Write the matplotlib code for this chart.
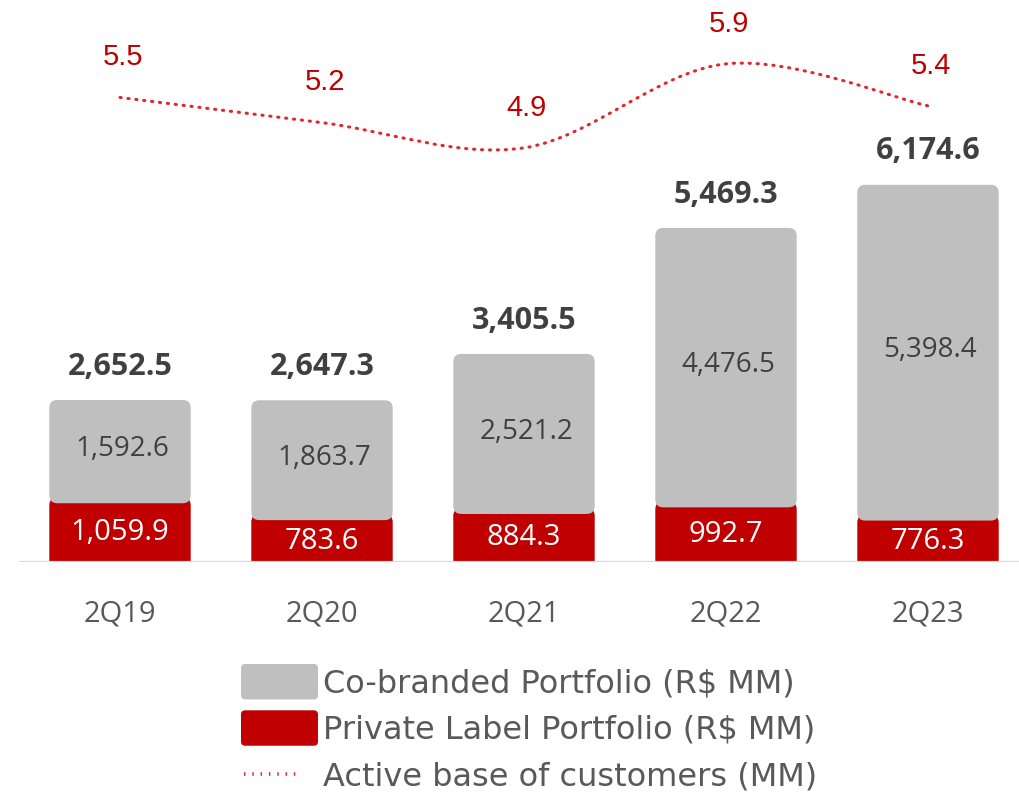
import numpy as np
import matplotlib
matplotlib.use("Agg")
import matplotlib.pyplot as plt
from matplotlib.patches import FancyBboxPatch, PathPatch
from matplotlib.path import Path
from matplotlib.legend_handler import HandlerPatch

# data
quarters = ['2Q19', '2Q20', '2Q21', '2Q22', '2Q23']
private_label = [1059.9, 783.6, 884.3, 992.7, 776.3]
co_branded = [1592.6, 1863.7, 2521.2, 4476.5, 5398.4]
totals = [2652.5, 2647.3, 3405.5, 5469.3, 6174.6]
customers = [5.5, 5.2, 4.9, 5.9, 5.4]

GRAY = '#bfbfbf'
RED = '#c00000'
LINE_RED = '#e3262b'
TXT = '#404040'
TXT2 = '#595959'

plt.rcParams['font.family'] = ['Open Sans', 'DejaVu Sans']

fig = plt.figure(figsize=(10.19, 7.92), dpi=100)
ax = fig.add_axes([19/1019, 230/792, 1010/1019, 562/792])
ax.set_xlim(-0.5, 4.5)
YMAX = 9200
ax.set_ylim(0, YMAX)

x = np.arange(len(quarters))
w = 0.70
px_x = 1010/5.0          # pixels per x unit
px_y = 562.0/YMAX        # pixels per y unit
r = 8/px_x
asp = (8/px_y)/r
overlap = 6/px_y         # gray bar sits a bit over the red one


def rbar(xc, bottom, top, color, z):
    p = FancyBboxPatch((xc - w/2, bottom), w, top - bottom,
                       boxstyle="round,pad=0,rounding_size=%f" % r,
                       mutation_aspect=asp, fc=color, ec='none', zorder=z)
    ax.add_patch(p)
    return p


for i in range(len(x)):
    # red bar starts below the baseline so its bottom looks square
    rbar(x[i], -200, private_label[i], RED, 2)
    rbar(x[i], private_label[i] - overlap, totals[i], GRAY, 3)
    ax.text(x[i], (private_label[i] - overlap)/2, f"{private_label[i]:,.1f}",
            ha='center', va='center', color='white', fontsize=21, zorder=5)
    ax.text(x[i] + 0.01, (private_label[i] - overlap + totals[i])/2 + 40,
            f"{co_branded[i]:,.1f}", ha='center', va='center', color=TXT,
            fontsize=20, zorder=5)
    ax.annotate(f"{totals[i]:,.1f}", (x[i], totals[i]), xytext=(0, 24),
                textcoords='offset points', ha='center', va='center',
                color=TXT, fontsize=22, fontweight='bold')

ax.axhline(0, color='#d9d9d9', lw=1.6, zorder=4)
for s in ax.spines.values():
    s.set_visible(False)
ax.set_yticks([])
ax.set_xticks(x)
ax.set_xticklabels(quarters, fontsize=21, color=TXT2)
ax.tick_params(axis='x', length=0, pad=27)

# secondary axis for the customer line
ax2 = ax.twinx()
ax2.set_ylim(-0.03, 6.66)
ax2.set_yticks([])
for s in ax2.spines.values():
    s.set_visible(False)

# smooth curve through the points (cubic bezier, catmull-rom tangents)
pts = np.column_stack([x, customers]).astype(float)
verts = [tuple(pts[0])]
codes = [Path.MOVETO]
n = len(pts)
for i in range(n - 1):
    p0 = pts[max(i - 1, 0)]
    p1 = pts[i]
    p2 = pts[i + 1]
    p3 = pts[min(i + 2, n - 1)]
    c1 = p1 + (p2 - p0)/6.0
    c2 = p2 - (p3 - p1)/6.0
    verts += [tuple(c1), tuple(c2), tuple(p2)]
    codes += [Path.CURVE4]*3
line = PathPatch(Path(verts, codes), fill=False, ec=LINE_RED, lw=2.2,
                 linestyle=(0, (0.4, 2.2)), capstyle='round', zorder=6)
ax2.add_patch(line)

for i in range(n):
    ax2.annotate(f"{customers[i]:.1f}", (x[i], customers[i]), xytext=(2, 29),
                 textcoords='offset points', ha='center', va='center',
                 color=RED, fontsize=21, family=['Liberation Sans', 'DejaVu Sans'])


# legend with rounded swatches
def box_handle(legend, orig_handle, xdescent, ydescent, width, height, fontsize):
    rr = 0.12*height
    return FancyBboxPatch((-xdescent, -ydescent), width, height,
                          boxstyle="round,pad=0,rounding_size=%f" % rr)


def line_handle(legend, orig_handle, xdescent, ydescent, width, height, fontsize):
    y0 = -ydescent + height/2
    p = PathPatch(Path([(-xdescent + 2, y0), (-xdescent + 0.72*width, y0)]),
                  fill=False)
    return p


h_gray = FancyBboxPatch((0, 0), 1, 1, fc=GRAY, ec='none')
h_red = FancyBboxPatch((0, 0), 1, 1, fc=RED, ec='none')
h_line = PathPatch(Path([(0, 0), (1, 0)]), fill=False, ec=LINE_RED, lw=2.6,
                   linestyle=(0, (0.4, 1.9)), capstyle='round')

leg = fig.legend([h_gray, h_red, h_line],
                 ['Co-branded Portfolio (R$ MM)', 'Private Label Portfolio (R$ MM)',
                  'Active base of customers (MM)'],
                 handler_map={h_gray: HandlerPatch(patch_func=box_handle),
                              h_red: HandlerPatch(patch_func=box_handle),
                              h_line: HandlerPatch(patch_func=line_handle)},
                 loc='upper left', bbox_to_anchor=(241/1019, 1 - 664/792),
                 frameon=False, prop={'family': ['DejaVu Sans'], 'size': 23},
                 handlelength=2.41, handleheight=1.33,
                 handletextpad=0.15, labelspacing=0.34, borderpad=0, borderaxespad=0)
for t in leg.get_texts():
    t.set_color(TXT2)

fig.savefig('out.png', dpi=100)
